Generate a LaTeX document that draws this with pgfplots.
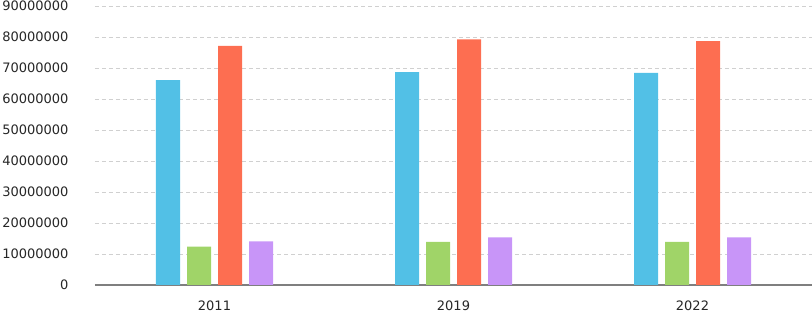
\documentclass[border=0pt]{standalone}
\usepackage{pgfplots}
\pgfplotsset{compat=1.18}
\usepackage{fontspec}
\setmainfont{DejaVu Sans}
\definecolor{cblue}{HTML}{52C0E6}
\definecolor{cgreen}{HTML}{A0D468}
\definecolor{cred}{HTML}{FD6E51}
\definecolor{cpurple}{HTML}{C895F8}
\definecolor{gridc}{HTML}{D0D0D0}
\definecolor{axc}{HTML}{7F7F7F}
\begin{document}
\begin{tikzpicture}
\useasboundingbox (0,0) rectangle (812pt,312pt);
\begin{axis}[
  at={(95pt,27pt)}, anchor=south west,
  scale only axis, width=717pt, height=279pt,
  ybar=7pt, bar width=24pt,
  xmin=-0.5, xmax=2.5, ymin=0, ymax=90000000,
  xtick={0,1,2}, xticklabels={2011,2019,2022},
  ytick={0,10000000,...,90000000},
  scaled y ticks=false,
  /pgf/number format/assume math mode=true,
  yticklabel style={/pgf/number format/fixed, /pgf/number format/1000 sep={}, font=\fontsize{13}{15}\selectfont, text=black!85, xshift=-23pt},
  xticklabel style={font=\fontsize{13}{15}\selectfont, text=black!85, yshift=-12pt},
  major tick length=0pt,
  axis y line*=left, y axis line style={draw=none},
  axis x line*=bottom, x axis line style={draw=axc, line width=1.5pt},
  ymajorgrids, grid style={gridc, dashed, line width=0.8pt, dash pattern=on 4pt off 3pt},
  axis on top=false,
]
\addplot[fill=cblue, draw=none] coordinates {(0,66100000) (1,68700000) (2,68400000)};
\addplot[fill=cgreen, draw=none] coordinates {(0,12400000) (1,13900000) (2,13900000)};
\addplot[fill=cred, draw=none] coordinates {(0,77100000) (1,79200000) (2,78700000)};
\addplot[fill=cpurple, draw=none] coordinates {(0,14100000) (1,15400000) (2,15400000)};
\end{axis}
\end{tikzpicture}
\end{document}
